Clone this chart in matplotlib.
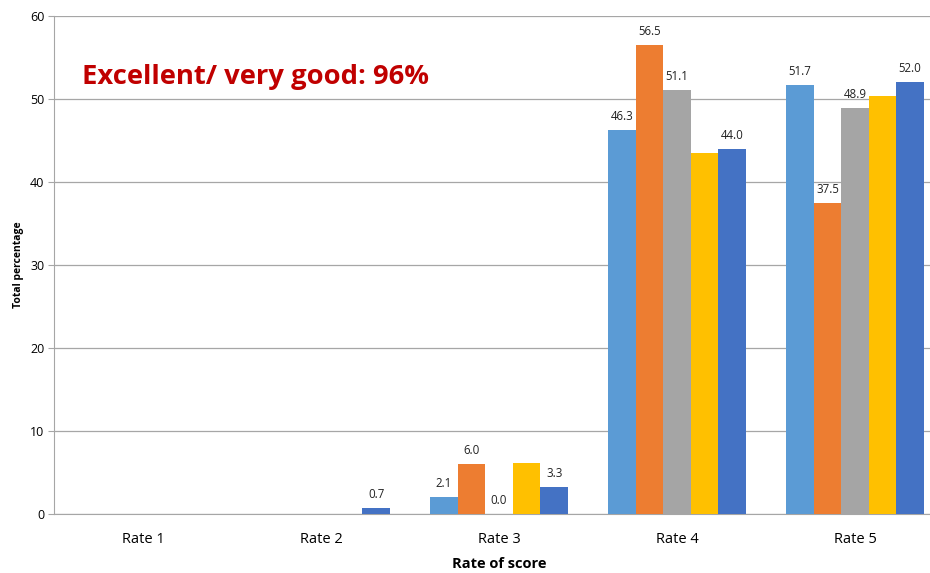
import matplotlib.pyplot as plt
import numpy as np

categories = ["Rate 1", "Rate 2", "Rate 3", "Rate 4", "Rate 5"]
s1 = [0.0, 0.0, 2.1, 46.3, 51.7]
s2 = [0.0, 0.0, 6.0, 56.5, 37.5]
s3 = [0.0, 0.0, 0.0, 51.1, 48.9]
s4 = [0.0, 0.0, 6.2, 43.5, 50.4]
s5 = [0.0, 0.7, 3.3, 44.0, 52.0]
# labels shown on the chart (blank = no label)
l1 = ["", "", "2.1", "46.3", "51.7"]
l2 = ["", "", "6.0", "56.5", "37.5"]
l3 = ["", "", "0.0", "51.1", "48.9"]
l4 = ["", "", "", "", ""]
l5 = ["", "0.7", "3.3", "44.0", "52.0"]

series = [s1, s2, s3, s4, s5]
labels = [l1, l2, l3, l4, l5]
colors = ["#5B9BD5", "#ED7D31", "#A5A5A5", "#FFC000", "#4472C4"]

plt.rcParams['font.family'] = ['Open Sans', 'DejaVu Sans']

fig = plt.figure(figsize=(9.3, 5.73), dpi=100)
ax = fig.add_axes([54/930, 59/573, 890/930, 498/573])

x = np.arange(len(categories))
w = 0.155
for i, (vals, labs, c) in enumerate(zip(series, labels, colors)):
    pos = x + (i - 2) * w
    ax.bar(pos, vals, width=w, color=c, zorder=3)
    for p, v, t in zip(pos, vals, labs):
        if t:
            ax.annotate(t, (p, v), xytext=(0, 5), textcoords="offset points",
                        ha="center", va="bottom", fontsize=8.3, color="#222222")

ax.set_xlim(-0.5, 4.5)
ax.set_ylim(0, 60)
ax.set_yticks(range(0, 61, 10))
ax.yaxis.grid(True, color="#A6A6A6", linewidth=0.9, zorder=0)
ax.set_xticks(x)
ax.set_xticklabels(categories, fontsize=10.5)
ax.tick_params(axis="x", length=0, pad=13)
ax.tick_params(axis="y", length=4, color="#A6A6A6", labelsize=9, pad=3)
for s in ["top", "right"]:
    ax.spines[s].set_visible(False)
ax.spines["left"].set_color("#A6A6A6")
ax.spines["bottom"].set_color("#A6A6A6")

ax.set_xlabel("Rate of score", fontsize=10.5, fontweight="bold", labelpad=7)
ax.set_ylabel("Total percentage", fontsize=7.5, fontweight="bold", labelpad=4)

ax.text(0.032, 0.877, "Excellent/ very good: 96%", transform=ax.transAxes,
        fontsize=19.7, fontweight="bold", color="#C00000", va="center")

fig.savefig("out.png", dpi=100)
